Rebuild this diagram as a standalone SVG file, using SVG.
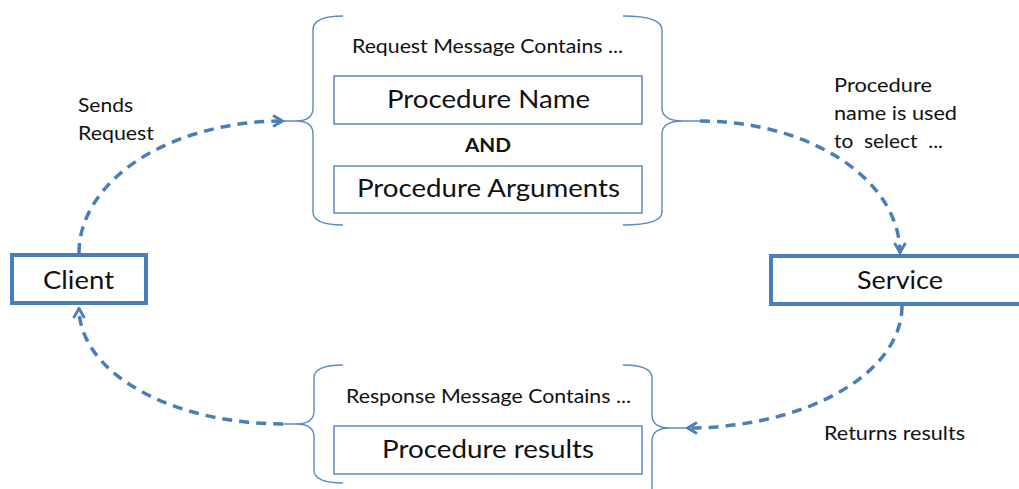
<svg xmlns="http://www.w3.org/2000/svg" width="1019" height="489" viewBox="0 0 1019 489">
  <style>
    .node { fill: #ffffff; stroke: #4a7ebb; stroke-width: 4; }
    .item { fill: #ffffff; stroke: #4f81bd; stroke-width: 1.4; }
    .brace { fill: none; stroke: #5b8ac6; stroke-width: 1.4; }
    .flow { fill: none; stroke: #4a7ebb; stroke-width: 3.5; stroke-dasharray: 10 7; }
    text { font-family: Lato, "Open Sans", sans-serif; fill: #111111; }
    .big { font-size: 25px; text-anchor: middle; }
    .cap { font-size: 19.5px; text-anchor: middle; }
    .note { font-size: 19.5px; }
    .bold { font-size: 19px; font-weight: bold; text-anchor: middle; }
  </style>
  <defs>
    <marker id="arrow" viewBox="0 0 14 14" refX="12.5" refY="7" markerWidth="14" markerHeight="14" markerUnits="userSpaceOnUse" orient="auto">
      <path d="M2.5,1.5 L12,7 L2.5,12.5" fill="none" stroke="#4a7ebb" stroke-width="2.8"/>
    </marker>
  </defs>
  <rect width="1019" height="489" fill="#ffffff"/>

  <!-- request message -->
  <g id="request">
    <path class="brace" d="M343,16 Q313,16 313,30 L313,108 Q313,121 296,121 L284,121 M296,121 Q313,121 313,134 L313,212 Q313,225 343,225"/>
    <path class="brace" d="M623,16 Q662,16 662,30 L662,108 Q662,121 683,121 L700,121 M683,121 Q662,121 662,134 L662,212 Q662,225 623,225"/>
    <text class="cap" x="487.5" y="53" textLength="271" lengthAdjust="spacingAndGlyphs">Request Message Contains ...</text>
    <rect class="item" x="334" y="76" width="308" height="48"/>
    <text class="big" x="488.5" y="108" textLength="203" lengthAdjust="spacingAndGlyphs">Procedure Name</text>
    <text class="bold" x="488" y="152" textLength="46" lengthAdjust="spacingAndGlyphs">AND</text>
    <rect class="item" x="334" y="166" width="308" height="47"/>
    <text class="big" x="488.5" y="197" textLength="263" lengthAdjust="spacingAndGlyphs">Procedure Arguments</text>
  </g>

  <!-- response message -->
  <g id="response">
    <path class="brace" d="M343,365 Q314,365 314,378 L314,411 Q314,424 296,424 L283,424 M296,424 Q314,424 314,437 L314,470 Q314,483 343,483"/>
    <path class="brace" d="M623,365 Q652,365 652,378 L652,415 Q652,428 670,428 L686,428 M670,428 Q652,428 652,441 L652,495"/>
    <text class="cap" x="488.5" y="403" textLength="285" lengthAdjust="spacingAndGlyphs">Response Message Contains ...</text>
    <rect class="item" x="334" y="426" width="308" height="48"/>
    <text class="big" x="488" y="458" textLength="212" lengthAdjust="spacingAndGlyphs">Procedure results</text>
  </g>

  <g id="client">
    <rect class="node" x="12" y="255" width="134" height="48"/>
    <text class="big" x="78.5" y="289" textLength="71" lengthAdjust="spacingAndGlyphs">Client</text>
  </g>

  <g id="service">
    <rect class="node" x="771" y="256" width="280" height="48"/>
    <text class="big" x="900" y="289" textLength="86" lengthAdjust="spacingAndGlyphs">Service</text>
  </g>

  <!-- dashed flows with open arrowheads -->
  <g id="connectors">
    <path class="flow" d="M79,253 A204,132 0 0 1 283,121" marker-end="url(#arrow)"/>
    <path class="flow" d="M700,121 A200,132 0 0 1 900,253" marker-end="url(#arrow)"/>
    <path class="flow" d="M902,306 A215,122 0 0 1 687,428" marker-end="url(#arrow)"/>
    <path class="flow" d="M283,424 A204,116 0 0 1 79,308" marker-end="url(#arrow)"/>
  </g>

  <!-- flow labels -->
  <text class="note" x="78" y="112" textLength="55" lengthAdjust="spacingAndGlyphs">Sends</text>
  <text class="note" x="78" y="140" textLength="76" lengthAdjust="spacingAndGlyphs">Request</text>
  <text class="note" x="834" y="92" textLength="98" lengthAdjust="spacingAndGlyphs">Procedure</text>
  <text class="note" x="834" y="120" textLength="123" lengthAdjust="spacingAndGlyphs">name is used</text>
  <text class="note" x="834" y="148" xml:space="preserve" textLength="109" lengthAdjust="spacingAndGlyphs">to  select  ...</text>
  <text class="note" x="824" y="440" textLength="141" lengthAdjust="spacingAndGlyphs">Returns results</text>
</svg>
